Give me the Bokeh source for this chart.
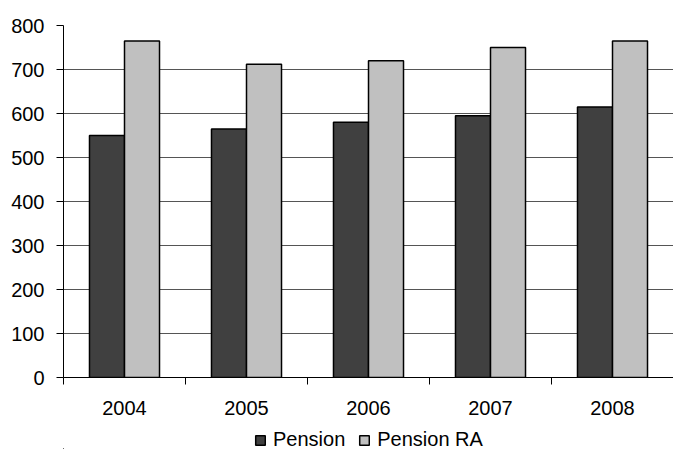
from bokeh.plotting import figure
from bokeh.layouts import column
from bokeh.models import (ColumnDataSource, Range1d, FixedTicker, Legend, LegendItem)
from bokeh.transform import dodge
from bokeh.embed import file_html
from bokeh.resources import INLINE

years = ["2004", "2005", "2006", "2007", "2008"]
pension = [550, 565, 580, 595, 615]
pension_ra = [765, 712, 720, 750, 765]
y_ticks = [0, 100, 200, 300, 400, 500, 600, 700, 800]
series_names = ["Pension", "Pension RA"]
series_colors = ["#404040", "#c0c0c0"]

FONT = "Liberation Sans"
FS = "20px"

# category slots: year i occupies [i, i+1] on the x scale, centred at i + 0.5
pos = [i + 0.5 for i in range(len(years))]
src = ColumnDataSource(data=dict(year=years, pos=pos, pension=pension, pension_ra=pension_ra))

p = figure(width=673, height=420, output_backend="svg", toolbar_location=None,
           x_range=Range1d(0, len(years)), y_range=Range1d(0, 800),
           min_border_left=63, min_border_right=0,
           min_border_top=25, min_border_bottom=43)
p.outline_line_color = None
p.background_fill_color = "white"
p.border_fill_color = "white"

bw = 0.287
r1 = p.vbar(x=dodge("pos", -bw / 2), top="pension", width=bw,
            source=src, fill_color=series_colors[0], line_color="black", line_width=1.5)
r2 = p.vbar(x=dodge("pos", bw / 2), top="pension_ra", width=bw,
            source=src, fill_color=series_colors[1], line_color="black", line_width=1.5)

# x axis: labels at category centres, tick marks at category boundaries
xa = p.xaxis[0]
xa.ticker = FixedTicker(ticks=pos, minor_ticks=list(range(len(years) + 1)))
xa.major_label_overrides = {c: y for c, y in zip(pos, years)}
xa.major_tick_line_color = None
xa.major_tick_out = 0
xa.major_tick_in = 0
xa.minor_tick_out = 7
xa.minor_tick_in = 0
xa.minor_tick_line_color = "black"
xa.axis_line_color = "black"
xa.major_label_standoff = 16
xa.major_label_text_font = FONT
xa.major_label_text_font_size = FS
xa.major_label_text_color = "black"

ya = p.yaxis[0]
ya.ticker = FixedTicker(ticks=y_ticks)
ya.major_tick_out = 7
ya.major_tick_in = 0
ya.minor_tick_line_color = None
ya.axis_line_color = "black"
ya.major_tick_line_color = "black"
ya.major_label_standoff = 12
ya.major_label_text_font = FONT
ya.major_label_text_font_size = FS
ya.major_label_text_color = "black"

p.xgrid.visible = False
p.ygrid.ticker = FixedTicker(ticks=y_ticks)
p.ygrid.grid_line_color = "#555555"
p.ygrid.grid_line_width = 1

# legend strip under the chart; its bars are degenerate and lie far outside
# its ranges, so they only provide the legend swatches
lg = figure(width=673, height=29, output_backend="svg", toolbar_location=None,
            x_range=Range1d(1000, 1001), y_range=Range1d(100000, 100001), min_border=0)
lg.outline_line_color = None
lg.axis.visible = False
lg.grid.visible = False
items = []
for name, col, fld in zip(series_names, series_colors, ["pension", "pension_ra"]):
    rr = lg.vbar(x="pos", top=fld, bottom=fld, width=0, source=src,
                 fill_color=col, line_color="black", line_width=1.5)
    items.append(LegendItem(label=name, renderers=[rr]))

legend = Legend(items=items, orientation="horizontal", location=(191, -2),
                padding=0, margin=0, spacing=13, label_standoff=7,
                glyph_width=12, glyph_height=12, label_height=20,
                border_line_color=None, background_fill_alpha=0,
                label_text_font=FONT, label_text_font_size=FS,
                label_text_color="black")
lg.add_layout(legend, "center")

open("out.html", "w").write(file_html(column(p, lg, spacing=0), INLINE))
